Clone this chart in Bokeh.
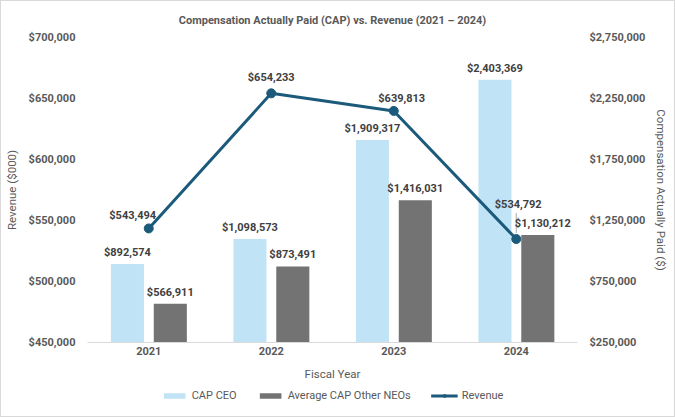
from bokeh.plotting import figure
from bokeh.layouts import column
from bokeh.core.properties import value
from bokeh.models import (Range1d, LinearAxis, FixedTicker, NumeralTickFormatter,
                          ColumnDataSource, LabelSet, Legend, LegendItem, FactorRange)
from bokeh.transform import dodge
from bokeh.embed import file_html
from bokeh.resources import INLINE

# Fiscal years and reported values
years = ["2021", "2022", "2023", "2024"]
cap_ceo = [892574, 1098573, 1909317, 2403369]
cap_neo = [566911, 873491, 1416031, 1130212]
revenue = [543494, 654233, 639813, 534792]

rev_ticks = [450000, 500000, 550000, 600000, 650000, 700000]
cap_ticks = [250000, 750000, 1250000, 1750000, 2250000, 2750000]

# Screen-space nudges for the revenue value labels (pixels)
rev_label_dx = [-16, 0, 8, 2]
rev_label_dy = [13, 16, 12, 35]
neo_label_dx = [0, 0, 0, 5]

FONT = "Roboto"
TXT = "#595959"
LBL = "#404040"
BLUE_LIGHT = "#C0E4F5"
GREY_BAR = "#737373"
LINE_BLUE = "#1B5A7A"
W = 673
H_MAIN = 386
B_TOP, B_BOTTOM = 35, 45
REV_LO, REV_HI = 450000, 700000


def money(v):
    return "${:,.0f}".format(v)


src = ColumnDataSource(dict(
    year=years, ceo=cap_ceo, neo=cap_neo, rev=revenue,
    ceo_txt=[money(v) for v in cap_ceo],
    neo_txt=[money(v) for v in cap_neo],
    rev_txt=[money(v) for v in revenue],
    rev_dx=rev_label_dx, rev_dy=rev_label_dy, neo_dx=neo_label_dx,
))

p = figure(width=W, height=H_MAIN, x_range=FactorRange(*years),
           y_range=Range1d(REV_LO, REV_HI),
           output_backend="svg", toolbar_location=None,
           min_border_left=85, min_border_right=97,
           min_border_top=B_TOP, min_border_bottom=B_BOTTOM)
p.extra_y_ranges = {"cap": Range1d(250000, 2750000)}
p.x_range.range_padding = 0
p.outline_line_color = None
p.grid.visible = False

p.title.text = "Compensation Actually Paid (CAP) vs. Revenue (2021 \u2013 2024)"
p.title.align = "center"
p.title.text_font = FONT
p.title.text_font_size = "11px"
p.title.text_font_style = "bold"
p.title.text_color = TXT
p.title.standoff = 21

# Bars on the compensation axis
ceo_r = p.vbar(x=dodge("year", -0.174, range=p.x_range), top="ceo", bottom=250000,
               width=0.27, source=src, y_range_name="cap",
               fill_color=BLUE_LIGHT, line_color=None)
neo_r = p.vbar(x=dodge("year", 0.176, range=p.x_range), top="neo", bottom=250000,
               width=0.27, source=src, y_range_name="cap",
               fill_color=GREY_BAR, line_color=None)

# Short leader from the last revenue point up to its raised label
units_per_px = (REV_HI - REV_LO) / (H_MAIN - B_TOP - B_BOTTOM)
p.segment(x0=[years[-1]], y0=[revenue[-1] + 6 * units_per_px],
          x1=[years[-1]], y1=[revenue[-1] + 26 * units_per_px],
          line_color="#A6A6A6", line_width=1)

# Revenue line on the primary axis
line_r = p.line(x="year", y="rev", source=src, line_color=LINE_BLUE, line_width=3)
dot_r = p.scatter(x="year", y="rev", source=src, size=9, marker="circle",
                  fill_color=LINE_BLUE, line_color=LINE_BLUE)

label_style = dict(text_font=value(FONT), text_font_size=value("11px"),
                   text_font_style=value("bold"), text_color=LBL,
                   text_align="center")

p.add_layout(LabelSet(x=dodge("year", -0.174, range=p.x_range), y="ceo", text="ceo_txt",
                      source=src, y_range_name="cap", y_offset=5,
                      text_baseline="bottom", **label_style))
p.add_layout(LabelSet(x=dodge("year", 0.176, range=p.x_range), y="neo", text="neo_txt",
                      source=src, y_range_name="cap", y_offset=5, x_offset="neo_dx",
                      text_baseline="bottom", **label_style))
p.add_layout(LabelSet(x="year", y="rev", text="rev_txt", source=src,
                      x_offset="rev_dx", y_offset="rev_dy",
                      text_baseline="middle", **label_style))

# Axes
ax_style = dict(major_label_text_font=FONT, major_label_text_font_size="11px",
                major_label_text_font_style="bold", major_label_text_color=TXT,
                axis_label_text_font=FONT, axis_label_text_font_size="11.5px",
                axis_label_text_font_style="normal", axis_label_text_color=TXT,
                major_tick_line_color=None, minor_tick_line_color=None,
                major_tick_out=0, major_tick_in=0,
                minor_tick_out=0, minor_tick_in=0)

yl = p.yaxis[0]
yl.ticker = FixedTicker(ticks=rev_ticks)
yl.formatter = NumeralTickFormatter(format="$0,0")
yl.axis_label = "Revenue ($000)"
yl.axis_line_color = None
yl.major_label_standoff = 12
yl.axis_label_standoff = 7
for k, v in ax_style.items():
    setattr(yl, k, v)

yr = LinearAxis(y_range_name="cap", ticker=FixedTicker(ticks=cap_ticks),
                formatter=NumeralTickFormatter(format="$0,0"),
                axis_label="Compensation Actually Paid ($)",
                axis_line_color=None, major_label_standoff=12,
                axis_label_standoff=6, **ax_style)
p.add_layout(yr, "right")

xa = p.xaxis[0]
xa.axis_label = "Fiscal Year"
xa.axis_line_color = "#D9D9D9"
xa.axis_line_width = 1
xa.major_label_standoff = 4
xa.axis_label_standoff = 9
for k, v in ax_style.items():
    setattr(xa, k, v)

# Legend strip underneath the chart; its swatch renderers sit off-range
leg = figure(width=W, height=417 - 2 - H_MAIN, output_backend="svg",
             toolbar_location=None,
             min_border_left=0, min_border_right=0, min_border_top=0,
             min_border_bottom=0, x_range=Range1d(0, 1), y_range=Range1d(0, 1))
leg.axis.visible = False
leg.grid.visible = False
leg.outline_line_color = None
off = ColumnDataSource(dict(x=[-5.0, -4.0], y=[-5.0, -4.0]))
s1 = leg.vbar(x="x", top="y", width=0.1, source=off,
              fill_color=BLUE_LIGHT, line_color=None)
s2 = leg.vbar(x="x", top="y", width=0.1, source=off,
              fill_color=GREY_BAR, line_color=None)
s3 = leg.line(x="x", y="y", source=off, line_color=LINE_BLUE, line_width=3)
s4 = leg.scatter(x="x", y="y", source=off, size=7, marker="circle",
                 fill_color=LINE_BLUE, line_color=LINE_BLUE)

legend = Legend(items=[
    LegendItem(label="CAP CEO", renderers=[s1]),
    LegendItem(label="Average CAP Other NEOs", renderers=[s2]),
    LegendItem(label="Revenue", renderers=[s3, s4]),
], orientation="horizontal", location="top_center",
    label_text_font=FONT, label_text_font_size="11px", label_text_color=TXT,
    glyph_width=27, glyph_height=7, label_height=13, label_standoff=4, spacing=20,
    padding=0, margin=2, border_line_color=None, background_fill_alpha=0)
leg.add_layout(legend)

page = column(p, leg, spacing=0, styles={"border": "1px solid #D9D9D9"})

open("out.html", "w").write(file_html(page, INLINE))
